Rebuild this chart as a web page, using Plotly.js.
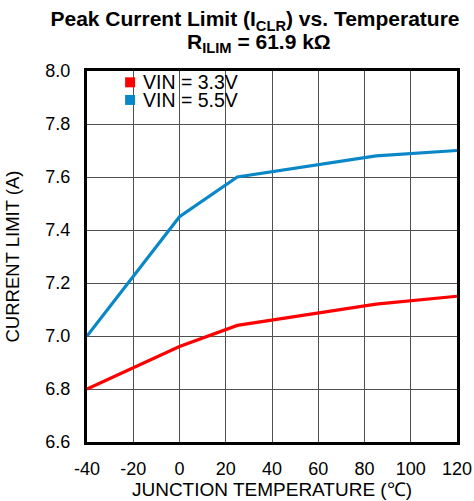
<!DOCTYPE html>
<html>
<head>
<meta charset="utf-8">
<script src="https://cdn.plot.ly/plotly-3.0.1.min.js"></script>
<style>html,body{margin:0;padding:0;background:#fff}#chart{width:474px;height:501px}</style>
</head>
<body>
<div id="chart"></div>
<script>
// Data
const temperature = [-40, 0, 25, 85, 120];
const vin33 = [6.80, 6.96, 7.04, 7.12, 7.15];
const vin55 = [7.00, 7.45, 7.60, 7.68, 7.70];
const seriesNames = ['VIN = 3.3V', 'VIN = 5.5V'];
const seriesColors = ['#ff0000', '#0a87c6'];
const xTicks = [-40, -20, 0, 20, 40, 60, 80, 100, 120];
const yTicks = [6.6, 6.8, 7.0, 7.2, 7.4, 7.6, 7.8, 8.0];
const titleLine1 = 'Peak Current Limit (I<sub>CLR</sub>) vs. Temperature';
const titleLine2 = 'R<sub>ILIM</sub> = 61.9 kΩ';

const font = 'Arial, "Liberation Sans", sans-serif';

const traces = [vin33, vin55].map((ys, i) => ({
  x: temperature, y: ys, type: 'scatter', mode: 'lines',
  name: seriesNames[i], showlegend: false,
  line: {color: seriesColors[i], width: 3.2}
}));

// legend drawn as annotations + squares
const legRows = [0.9695, 0.922];
const shapes = [{
  type: 'rect', xref: 'paper', yref: 'paper', layer: 'between',
  x0: 0, x1: 0.495, y0: 0.894, y1: 1,
  fillcolor: '#ffffff', line: {width: 0}
}];
const annotations = [];
seriesNames.forEach((n, i) => {
  shapes.push({
    type: 'rect', xref: 'paper', yref: 'paper', layer: 'above',
    x0: 0.103, x1: 0.130, y0: legRows[i] - 0.0135, y1: legRows[i] + 0.0135,
    fillcolor: seriesColors[i], line: {width: 0}
  });
  annotations.push({
    xref: 'paper', yref: 'paper', x: 0.146, y: legRows[i],
    xanchor: 'left', yanchor: 'middle', showarrow: false,
    text: n, font: {family: font, size: 19.5, color: '#000'}
  });
});
// second title line (tight line spacing as in the reference)
annotations.push({
  xref: 'paper', yref: 'paper', x: 0.466, y: 1.075,
  xanchor: 'center', yanchor: 'middle', showarrow: false,
  text: titleLine2, font: {family: font, size: 21, color: '#000', weight: 'bold'}
});

const layout = {
  width: 474, height: 501,
  margin: {l: 87, r: 17, t: 71, b: 59, pad: 0},
  paper_bgcolor: '#fff', plot_bgcolor: '#fff',
  showlegend: false,
  title: {
    text: titleLine1,
    font: {family: font, size: 21, color: '#000', weight: 'bold'},
    x: 0.538, xref: 'container', xanchor: 'center',
    y: 1 - 19 / 501, yref: 'container', yanchor: 'middle'
  },
  xaxis: {
    range: [-40, 120], tickvals: xTicks, ticktext: xTicks.map(String),
    showgrid: true, gridcolor: '#505050', gridwidth: 1,
    zeroline: false, showline: true, mirror: true, linecolor: '#000', linewidth: 3,
    ticks: '', ticklabelstandoff: 8,
    tickfont: {family: font, size: 18, color: '#000'},
    title: {text: 'JUNCTION TEMPERATURE (℃)', font: {family: font, size: 19, color: '#000'}, standoff: 4}
  },
  yaxis: {
    range: [6.6, 8.0], tickvals: yTicks, ticktext: yTicks.map(v => v.toFixed(1)),
    showgrid: true, gridcolor: '#505050', gridwidth: 1,
    zeroline: false, showline: true, mirror: true, linecolor: '#000', linewidth: 3,
    ticks: '', ticklabelstandoff: 10,
    tickfont: {family: font, size: 18, color: '#000'},
    title: {text: 'CURRENT LIMIT (A)', font: {family: font, size: 18.5, color: '#000'}, standoff: 21}
  },
  shapes: shapes,
  annotations: annotations
};

Plotly.newPlot('chart', traces, layout, {staticPlot: true, displayModeBar: false});
</script>
</body>
</html>
